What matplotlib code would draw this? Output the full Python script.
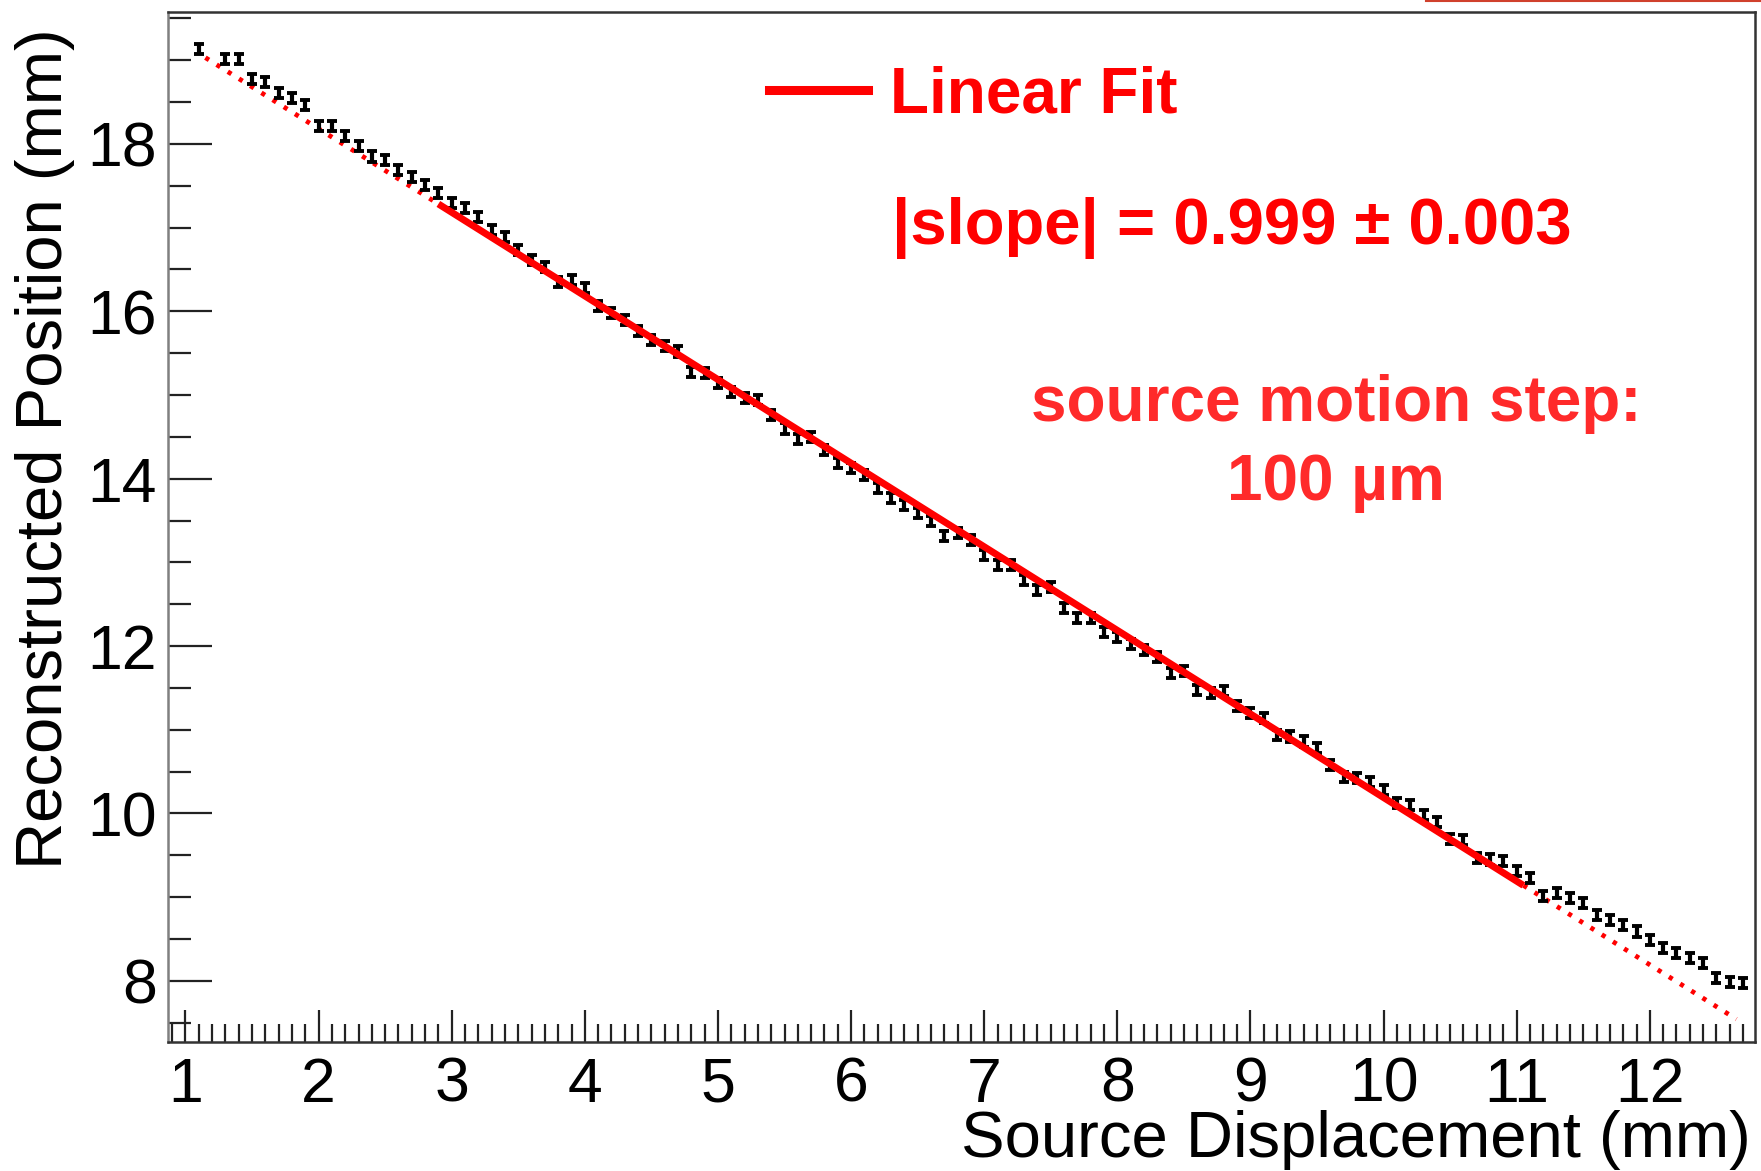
import matplotlib
matplotlib.use("Agg")
import matplotlib.pyplot as plt
from matplotlib.lines import Line2D
from matplotlib.ticker import MultipleLocator

plt.rcParams['font.family'] = ['Liberation Sans', 'DejaVu Sans']

# source displacement (mm) and reconstructed position (mm)
displacement = [1.1, 1.3, 1.4, 1.5, 1.6, 1.7, 1.8, 1.9, 2.0, 2.1, 2.2, 2.3, 2.4, 2.5, 2.6, 2.7,
                2.8, 2.9, 3.0, 3.1, 3.2, 3.3, 3.4, 3.5, 3.6, 3.7, 3.8, 3.9, 4.0, 4.1, 4.2, 4.3,
                4.4, 4.5, 4.6, 4.7, 4.8, 4.9, 5.0, 5.1, 5.2, 5.3, 5.4, 5.5, 5.6, 5.7, 5.8, 5.9,
                6.0, 6.1, 6.2, 6.3, 6.4, 6.5, 6.6, 6.7, 6.8, 6.9, 7.0, 7.1, 7.2, 7.3, 7.4, 7.5,
                7.6, 7.7, 7.8, 7.9, 8.0, 8.1, 8.2, 8.3, 8.4, 8.5, 8.6, 8.7, 8.8, 8.9, 9.0, 9.1,
                9.2, 9.3, 9.4, 9.5, 9.6, 9.7, 9.8, 9.9, 10.0, 10.1, 10.2, 10.3, 10.4, 10.5, 10.6,
                10.7, 10.8, 10.9, 11.0, 11.1, 11.2, 11.3, 11.4, 11.5, 11.6, 11.7, 11.8, 11.9,
                12.0, 12.1, 12.2, 12.3, 12.4, 12.5, 12.6, 12.7]
position = [19.14, 19.02, 19.02, 18.78, 18.74, 18.61, 18.55, 18.47, 18.21, 18.21, 18.09, 17.97,
            17.85, 17.81, 17.69, 17.61, 17.51, 17.41, 17.29, 17.23, 17.13, 16.97, 16.89, 16.73,
            16.61, 16.53, 16.35, 16.38, 16.28, 16.06, 15.98, 15.90, 15.76, 15.66, 15.58, 15.52,
            15.28, 15.26, 15.14, 15.04, 14.96, 14.94, 14.76, 14.60, 14.48, 14.50, 14.34, 14.19,
            14.13, 14.05, 13.89, 13.77, 13.69, 13.59, 13.49, 13.31, 13.35, 13.27, 13.09, 12.97,
            12.97, 12.79, 12.67, 12.71, 12.45, 12.33, 12.33, 12.17, 12.11, 12.03, 11.95, 11.87,
            11.68, 11.70, 11.48, 11.44, 11.46, 11.28, 11.20, 11.14, 10.94, 10.92, 10.86, 10.78,
            10.58, 10.44, 10.42, 10.38, 10.28, 10.12, 10.10, 9.98, 9.90, 9.70, 9.68, 9.47,
            9.45, 9.43, 9.31, 9.23, 9.01, 9.05, 8.99, 8.93, 8.79, 8.73, 8.67, 8.59,
            8.49, 8.39, 8.33, 8.27, 8.21, 8.03, 7.99, 7.97]
position_err = 0.06

# linear fit: y = intercept + slope * x
fit_intercept = 20.18
fit_slope = -0.999
fit_range = [2.9, 11.05]
draw_range = [1.15, 12.65]

fig = plt.figure(figsize=(17.61, 11.71), dpi=100)
ax = fig.add_axes([0.0954, 0.1102, 0.9012, 0.8798])

ax.errorbar(displacement, position, yerr=position_err, fmt='none', ecolor='black',
            elinewidth=3.0, capsize=3.6, capthick=2.8, zorder=3)


def fit_line(xs):
    return [fit_intercept + fit_slope * v for v in xs]


# extrapolated parts dotted, fitted range solid
lo = [draw_range[0], fit_range[0]]
hi = [fit_range[1], draw_range[1]]
ax.plot(lo, fit_line(lo), color='red', lw=3.4, linestyle=(0, (0.9, 1.9)), zorder=2)
ax.plot(hi, fit_line(hi), color='red', lw=3.4, linestyle=(0, (0.9, 1.9)), zorder=2)
ax.plot(fit_range, fit_line(fit_range), color='red', lw=5.0, solid_capstyle='butt', zorder=4)

ax.set_xlim(0.869, 12.79)
ax.set_ylim(7.27, 19.58)

ax.xaxis.set_major_locator(MultipleLocator(1))
ax.xaxis.set_minor_locator(MultipleLocator(0.1))
ax.yaxis.set_major_locator(MultipleLocator(2))
ax.yaxis.set_minor_locator(MultipleLocator(0.5))

ax.tick_params(axis='both', which='both', direction='in', color='#222222', width=1.6,
               labelsize=45)
ax.tick_params(axis='x', which='major', length=23, pad=10)
ax.tick_params(axis='x', which='minor', length=13)
ax.tick_params(axis='y', which='major', length=32, pad=8)
ax.tick_params(axis='y', which='minor', length=16.5)

for side in ['top', 'right', 'bottom']:
    ax.spines[side].set_color('#333333')
    ax.spines[side].set_linewidth(1.8)
ax.spines['left'].set_color('#808080')
ax.spines['left'].set_linewidth(1.8)

ax.text(-0.0775, 0.984, 'Reconstructed Position (mm)', transform=ax.transAxes,
        rotation=90, ha='center', va='top', fontsize=47)
ax.text(0.9975, -0.095, 'Source Displacement (mm)', transform=ax.transAxes,
        ha='right', va='center', fontsize=47)

handle = Line2D([], [], color='red', lw=6.5)
ax.legend([handle], ['Linear Fit'], loc='upper left', bbox_to_anchor=(0.3787, 0.948),
          frameon=False, prop={'weight': 'bold', 'size': 46}, labelcolor='red',
          handlelength=1.55, handletextpad=0.35, borderpad=0, borderaxespad=0)

ax.text(0.456, 0.79, '|slope| = 0.999 \u00b1 0.003', transform=ax.transAxes,
        ha='left', va='center', fontsize=47, fontweight='bold', color='red')
ax.text(0.736, 0.619, 'source motion step:', transform=ax.transAxes,
        ha='center', va='center', fontsize=46, fontweight='bold', color='#ff2a2a')
ax.text(0.736, 0.543, '100 \u00b5m', transform=ax.transAxes,
        ha='center', va='center', fontsize=46, fontweight='bold', color='#ff2a2a')

# thin red edge in the top right corner of the screenshot
fig.add_artist(Line2D([0.81, 1.0], [0.9995, 0.9995], transform=fig.transFigure,
                      color='#d0402c', lw=1.5))

plt.savefig('out.png', dpi=100)
